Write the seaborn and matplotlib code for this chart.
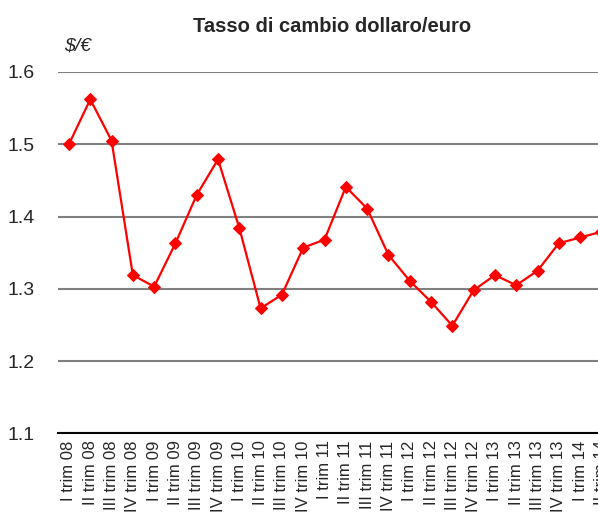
import numpy as np
import pandas as pd
import seaborn as sns
import matplotlib.pyplot as plt
from matplotlib.ticker import FixedLocator

trimestri = ["I trim 08", "II trim 08", "III trim 08", "IV trim 08",
             "I trim 09", "II trim 09", "III trim 09", "IV trim 09",
             "I trim 10", "II trim 10", "III trim 10", "IV trim 10",
             "I trim 11", "II trim 11", "III trim 11", "IV trim 11",
             "I trim 12", "II trim 12", "III trim 12", "IV trim 12",
             "I trim 13", "II trim 13", "III trim 13", "IV trim 13",
             "I trim 14", "II trim 14"]
cambio = [1.500, 1.562, 1.505, 1.319, 1.303, 1.363, 1.430, 1.479,
          1.384, 1.273, 1.292, 1.357, 1.368, 1.441, 1.411, 1.347,
          1.311, 1.282, 1.249, 1.298, 1.319, 1.305, 1.325, 1.363,
          1.371, 1.379]

df = pd.DataFrame({"pos": np.arange(len(trimestri)), "cambio": cambio})

sns.set_style("white")
plt.rcParams['font.family'] = ['Liberation Sans', 'DejaVu Sans']

fig = plt.figure(figsize=(5.98, 5.21), dpi=100)
ax = fig.add_axes([0.0975, 0.168, 0.926, 0.694])

sns.lineplot(data=df, x="pos", y="cambio", ax=ax, color="#ff0000",
             linewidth=1.6, marker="D", markersize=6,
             markeredgecolor="#ff0000", sort=False)

ax.set_ylim(1.1, 1.6)
ax.set_xlim(-0.5, len(trimestri) - 0.5)
ax.set_yticks([1.1, 1.2, 1.3, 1.4, 1.5, 1.6])
ax.set_yticklabels(["1.1", "1.2", "1.3", "1.4", "1.5", "1.6"], fontsize=14)
ax.yaxis.grid(True, color="#808080", linewidth=1.5)
ax.set_axisbelow(True)

ax.set_xticks(df["pos"])
ax.set_xticklabels(trimestri, rotation=90, fontsize=12)
ax.xaxis.set_minor_locator(FixedLocator(np.arange(-0.5, len(trimestri), 1)))
ax.tick_params(axis="x", which="major", length=0, pad=5)
ax.tick_params(axis="x", which="minor", length=5, width=1.2, color="black", direction="out")
ax.tick_params(axis="y", length=0, pad=17)

for s in ["left", "right", "top"]:
    ax.spines[s].set_visible(False)
ax.spines["bottom"].set_color("black")
ax.spines["bottom"].set_linewidth(1.5)

ax.set_xlabel("")
ax.set_ylabel("")

fig.text(0.555, 0.95, "Tasso di cambio dollaro/euro", ha="center", va="center",
         fontsize=14.5, fontweight="bold")
fig.text(0.108, 0.912, "$/€", ha="left", va="center", fontsize=14, style="italic")

fig.savefig("out.png", dpi=100)
